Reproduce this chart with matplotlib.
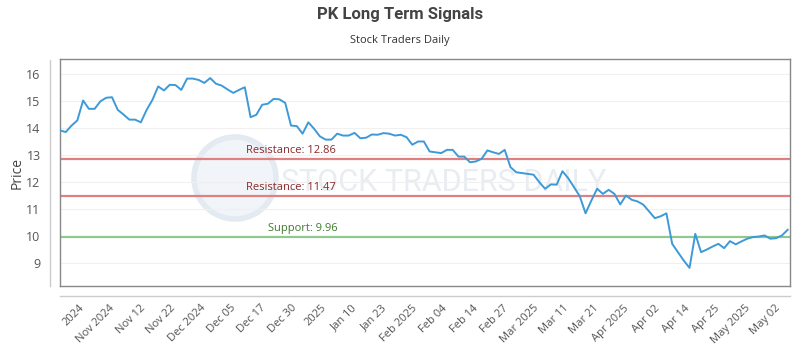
import numpy as np
import matplotlib
matplotlib.use("Agg")
import matplotlib.pyplot as plt
from matplotlib.lines import Line2D
from matplotlib.patches import Circle

# closing prices (one per trading day)
prices = [
    13.91, 13.85, 14.09, 14.28, 15.02, 14.71, 14.71, 14.99, 15.12, 15.14,
    14.67, 14.50, 14.31, 14.31, 14.21, 14.67, 15.04, 15.54, 15.39, 15.60,
    15.59, 15.41, 15.83, 15.83, 15.78, 15.67, 15.85, 15.64, 15.57, 15.43,
    15.30, 15.41, 15.51, 14.40, 14.49, 14.86, 14.90, 15.08, 15.06, 14.93,
    14.09, 14.07, 13.79, 14.21, 13.97, 13.69, 13.57, 13.57, 13.79, 13.72,
    13.72, 13.82, 13.62, 13.64, 13.76, 13.75, 13.81, 13.79, 13.72, 13.75,
    13.66, 13.38, 13.50, 13.50, 13.13, 13.10, 13.07, 13.19, 13.19, 12.94,
    12.94, 12.73, 12.76, 12.86, 13.17, 13.10, 13.04, 13.19, 12.55, 12.36,
    12.33, 12.30, 12.27, 11.99, 11.75, 11.91, 11.90, 12.40, 12.14, 11.81,
    11.47, 10.84, 11.31, 11.75, 11.56, 11.71, 11.56, 11.17, 11.50, 11.34,
    11.28, 11.16, 10.91, 10.66, 10.73, 10.84, 9.71, 9.40, 9.09, 8.82,
    10.08, 9.40, 9.50, 9.61, 9.71, 9.55, 9.81, 9.69, 9.80, 9.90,
    9.96, 9.98, 10.02, 9.90, 9.92, 10.02, 10.23,
]

tick_labels = [
    "2024", "Nov 2024", "Nov 12", "Nov 22", "Dec 2024", "Dec 05", "Dec 17",
    "Dec 30", "2025", "Jan 10", "Jan 23", "Feb 2025", "Feb 04", "Feb 14",
    "Feb 27", "Mar 2025", "Mar 11", "Mar 21", "Apr 2025", "Apr 02", "Apr 14",
    "Apr 25", "May 2025", "May 02",
]

resistance = [12.86, 11.47]
support = [9.96]

x = np.arange(len(prices))

fig = plt.figure(figsize=(8, 3.5), dpi=100)
ax = fig.add_axes([0.075, 0.183, 0.9125, 0.648])

ax.set_xlim(0, len(prices) - 1 + 0.4)
ax.set_ylim(8.15, 16.55)

# faint watermark (logo circle + name)
logo = Circle((2.35, 1.72), 0.41, transform=fig.dpi_scale_trans,
              facecolor="#f1f5f9", edgecolor="#e3eaf1", lw=4, zorder=0)
ax.add_patch(logo)
ax.text(66.5, 11.98, "STOCK TRADERS DAILY", ha="center", va="center", fontsize=22,
        color="#e9edf2", family="Roboto", zorder=0)

ax.yaxis.grid(True, color="#f0f0f0", lw=0.8)
ax.set_axisbelow(True)

for r in resistance:
    ax.axhline(r, color="#e08080", lw=1.6, zorder=2)
    ax.text(40, r + 0.12, f"Resistance: {r:.2f}", ha="center", va="bottom",
            fontsize=8, color="#8b2a2a", family="Open Sans", zorder=3)
for s in support:
    ax.axhline(s, color="#90c890", lw=1.6, zorder=2)
    ax.text(42, s + 0.12, f"Support: {s:.2f}", ha="center", va="bottom",
            fontsize=8, color="#3d7a2e", family="Open Sans", zorder=3)

ax.plot(x, prices, color="#3d9ad8", lw=1.4, zorder=4)

tick_pos = np.linspace(3.3, 123.8, len(tick_labels))
ax.set_xticks(tick_pos)
ax.set_xticklabels(tick_labels, rotation=45, ha="right", rotation_mode="anchor",
                   fontsize=8, color="#555555", family="Open Sans")
ax.tick_params(axis="x", length=0, pad=12)
ax.set_yticks(range(9, 17))
ax.tick_params(axis="y", length=0, labelsize=9, labelcolor="#555555", pad=14)
for lab in ax.get_yticklabels():
    lab.set_family("Open Sans")

for sp in ax.spines.values():
    sp.set_color("#888888")
    sp.set_linewidth(1.0)

ax.set_ylabel("Price", fontsize=10, color="#444444", family="Open Sans", labelpad=1)

# offset axis lines
fig.add_artist(Line2D([50 / 800, 50 / 800], [1 - 60 / 350, 1 - 286 / 350],
                      color="#cccccc", lw=1))
fig.add_artist(Line2D([60 / 800, 790 / 800], [1 - 296 / 350, 1 - 296 / 350],
                      color="#cccccc", lw=1))

fig.text(0.5, 1 - 15 / 350, "PK Long Term Signals", ha="center", va="center",
         fontsize=12, fontweight="bold", color="#444444", family="Roboto")
fig.text(0.5, 1 - 40 / 350, "Stock Traders Daily", ha="center", va="center",
         fontsize=8, color="#333333", family="Open Sans")

fig.savefig("out.png", dpi=100)
